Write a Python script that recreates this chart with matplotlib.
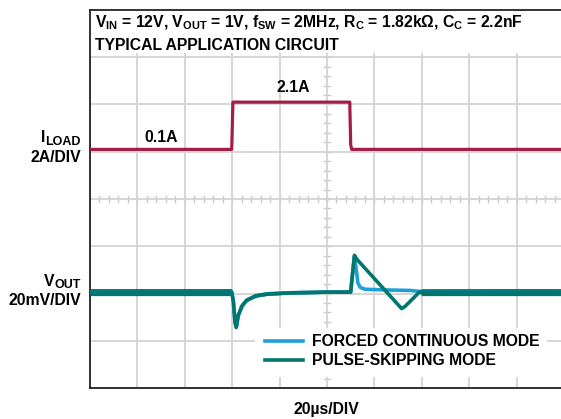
import numpy as np
import matplotlib.pyplot as plt
from matplotlib.patches import Rectangle

plt.rcParams['font.family'] = ['Liberation Sans', 'DejaVu Sans']
plt.rcParams['font.weight'] = 'bold'
plt.rcParams['mathtext.fontset'] = 'custom'
plt.rcParams['mathtext.rm'] = 'Liberation Sans:bold'
plt.rcParams['mathtext.it'] = 'Liberation Sans:bold'
plt.rcParams['mathtext.bf'] = 'Liberation Sans:bold'

# load current (A) vs time (us)
t_load = [0, 59.8, 60.3, 109.6, 110.0, 110.4, 200]
i_load = [0.1, 0.1, 2.1, 2.1, 0.3, 0.1, 0.1]

# output voltage deviation (mV) vs time (us), pulse-skipping mode
t_psm = [0, 59.8, 60.5, 61.2, 61.7, 62.5, 64, 66, 70, 75, 85, 100, 110,
         110.8, 111.6, 112.5, 131.5, 133, 139, 200]
v_psm = [0, 0, -4, -13, -15, -10, -6, -3.5, -1.6, -0.8, -0.3, 0, 0,
         8, 15.5, 14, -7, -6, 0, 0]

# forced continuous mode
t_fcm = [0, 59.8, 60.5, 61.2, 61.8, 62.7, 64.5, 66.5, 70, 75, 85, 100, 110,
         110.8, 111.6, 112.3, 113, 114, 116, 125, 135, 139, 200]
v_fcm = [0, 0, -4, -12.5, -14.5, -9.5, -5.5, -3.2, -1.5, -0.7, -0.3, 0, 0,
         8, 15.5, 10, 4, 2, 1.2, 0.9, 0.7, 0.3, 0]

# noise envelope half width (mV) on the pulse-skipping trace
t_noise = [0, 59.5, 60.5, 109.5, 110, 139, 140, 200]
n_noise = [1.5, 1.5, 0.6, 0.6, 0.3, 0.3, 1.5, 1.5]

c_load = '#A51C45'
c_fcm = '#1BA1D8'
c_psm = '#00766C'

def i_div(i):
    return 5.05 + (np.array(i) - 0.1) / 2.0

def v_div(v):
    return 2.03 + np.array(v) / 20.0

def px(x, y):
    # figure fraction from pixel position
    return x / 561, 1 - y / 419

fig = plt.figure(figsize=(5.61, 4.19), dpi=100)
ax = fig.add_axes([90 / 561, 31 / 419, 474 / 561, 378 / 419])
ax.set_xlim(0, 200)
ax.set_ylim(0, 8)
ax.set_xticks(np.arange(0, 201, 20))
ax.set_yticks(np.arange(0, 9, 1))
ax.tick_params(length=0, labelbottom=False, labelleft=False)
ax.grid(True, color='#D3D3D3', linewidth=1.3, zorder=0)
ax.set_axisbelow(True)
for s in ax.spines.values():
    s.set_linewidth(1.3)
    s.set_color('#222222')

# small ticks on the centre crosshair
for x in np.arange(0, 200.1, 4):
    ax.plot([x, x], [3.93, 4.07], color='#C8C8C8', lw=1.0, zorder=0.5)
for y in np.arange(0, 8.01, 0.2):
    ax.plot([98.7, 101.3], [y, y], color='#C8C8C8', lw=1.0, zorder=0.5)

# white band behind the header, white box behind the legend
ax.add_patch(Rectangle((0, 0.885), 1, 0.2, transform=ax.transAxes,
                       facecolor='white', edgecolor='none', zorder=1))
ax.add_patch(Rectangle(((255 - 90) / 474, (388 - 377) / 378), 292 / 474, 49 / 378,
                       transform=ax.transAxes, facecolor='white', edgecolor='none', zorder=1))

ax.plot(t_load, i_div(i_load), color=c_load, lw=2.3, zorder=3)

tn = np.linspace(0, 200, 2001)
nv = np.interp(tn, t_noise, n_noise)
vb = np.interp(tn, t_psm, v_psm)
ax.fill_between(tn, v_div(vb - nv), v_div(vb + nv), color=c_psm, lw=0, zorder=3)
ax.plot(t_fcm, v_div(v_fcm), color=c_fcm, lw=2.6, zorder=3, label='FORCED CONTINUOUS MODE')
ax.plot(t_psm, v_div(v_psm), color=c_psm, lw=2.6, zorder=4, label='PULSE-SKIPPING MODE')

fs = 11.3
fig.text(*px(95, 23),
         r'V$_{\rm IN}$ = 12V, V$_{\rm OUT}$ = 1V, f$_{\rm SW}$ = 2MHz, R$_{\rm C}$ = 1.82kΩ, C$_{\rm C}$ = 2.2nF',
         fontsize=fs, va='center', ha='left')
fig.text(*px(95, 45), 'TYPICAL APPLICATION CIRCUIT', fontsize=fs, va='center', ha='left')

renderer = fig.canvas.get_renderer()

def left_label(main, sub, y):
    # subscript drawn a bit larger than mathtext gives
    st = fig.text(*px(81, y + 4), sub, fontsize=fs * 0.8, va='center', ha='right')
    w = st.get_window_extent(renderer).width
    fig.text(*px(81 - w, y), main, fontsize=fs, va='center', ha='right')

left_label('I', 'LOAD', 138)
fig.text(*px(81, 157), '2A/DIV', fontsize=fs, va='center', ha='right')
left_label('V', 'OUT', 281)
fig.text(*px(81, 300), '20mV/DIV', fontsize=fs, va='center', ha='right')

fig.text(*px(161, 137), '0.1A', fontsize=fs, va='center', ha='center')
fig.text(*px(293, 88), '2.1A', fontsize=fs, va='center', ha='center')
fig.text(*px(326, 409), '20µs/DIV', fontsize=fs, va='center', ha='center')

leg = ax.legend(loc='upper left', bbox_to_anchor=((265 - 90) / 474, (388 - 334) / 378),
                frameon=False, fontsize=fs, handlelength=2.4, handletextpad=0.62,
                borderpad=0, labelspacing=0.27, borderaxespad=0)
for h in leg.get_lines():
    h.set_linewidth(2.6)
leg.set_zorder(5)

fig.savefig('out.png', dpi=100)
